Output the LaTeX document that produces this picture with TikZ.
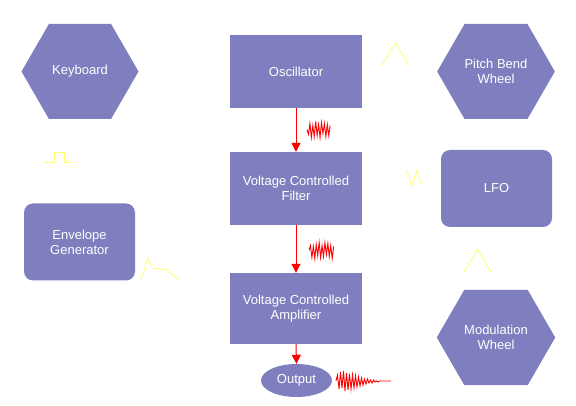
\documentclass[tikz,border=0pt]{standalone}
\usepackage{fontspec}
\setmainfont{Liberation Sans}
\usetikzlibrary{shapes.geometric,shapes.symbols,arrows.meta}
\definecolor{boxblue}{RGB}{127,127,191}
\definecolor{wavey}{RGB}{255,255,110}

\begin{document}
\begin{tikzpicture}[x=1pt,y=-1pt,
    unit/.style={fill=boxblue,text=white,font=\fontsize{13}{15}\selectfont,
      align=center,inner sep=0pt},
    box/.style={unit,rectangle,minimum width=132pt,minimum height=73pt},
    rbox/.style={unit,rectangle,rounded corners=9pt,minimum width=111pt,minimum height=77pt},
    hexa/.style={unit,signal,signal to=west and east,signal pointer angle=120,
      minimum width=117pt,minimum height=95pt},
    flow/.style={red,line width=1pt,-{Triangle[width=9pt,length=9pt]}},
    noise/.style={red,line width=0.9pt},
    wave/.style={wavey,line width=0.8pt}]
  \useasboundingbox (0,0) rectangle (576,406);

  % sources and controllers
  \node[hexa] (kbd) at (80,71.5) {Keyboard};
  \node[hexa] (pbw) at (496,71.5) {Pitch Bend\\Wheel};
  \node[hexa] (mod) at (496,337.5) {Modulation\\Wheel};
  \node[rbox] (env) at (79.5,242) {Envelope\\Generator};
  \node[rbox] (lfo) at (496.5,188.5) {LFO};

  % signal path
  \node[box] (osc) at (296,71.5) {Oscillator};
  \node[box] (vcf) at (296,188.5) {Voltage Controlled\\Filter};
  \node[box,minimum height=71pt] (vca) at (296,308.5) {Voltage Controlled\\Amplifier};
  \node[unit,ellipse,minimum width=71pt,minimum height=33pt] (out) at (296.5,380.5) {Output};

  \foreach \a/\b in {osc/vcf, vcf/vca, vca/out}
    \draw[flow] (\a.south) -- (\b.north);

  % audio waveforms
  \draw[noise] (307,129.5) \foreach \d [count=\i] in
    {5,-6,8,-4,7,-8,6,-5,8,-7,4,-6,7,-5,6,-4} { -- ({307+\i*1.45},{129.5+\d}) };
  \draw[noise] (309,250.5) \foreach \d [count=\i] in
    {-5,7,-4,8,-6,5,-8,7,-5,6,-8,4,-7,6,-5,8,-4} { -- ({309+\i*1.45},{250.5+\d}) };
  \draw[noise] (336,381) \foreach \d [count=\i] in
    {-6,8,-9,7,-10,10,-8,9,-7,8,-6,7,-5,6,-4,5,-3,4,-2,3,-2,2,-1,2,-1,1,0,1,0}
    { -- ({336+\i*1.5},{381+\d}) } -- (391,381);

  % control waveforms
  \draw[wave] (44,162) -- (54,162) -- (54,152) -- (64,152) -- (64,162) -- (73,162);
  \draw[wave] (141,280) -- (148,258) -- (152,268) -- (166,269.5) -- (179,280);
  \draw[wave] (382,65) -- (395.5,43) -- (409,65);
  \draw[wave] (407,170) -- (412,186) -- (417,170) -- (421,184);
  \draw[wave] (464,272) -- (477.5,249) -- (491,272);
\end{tikzpicture}
\end{document}
